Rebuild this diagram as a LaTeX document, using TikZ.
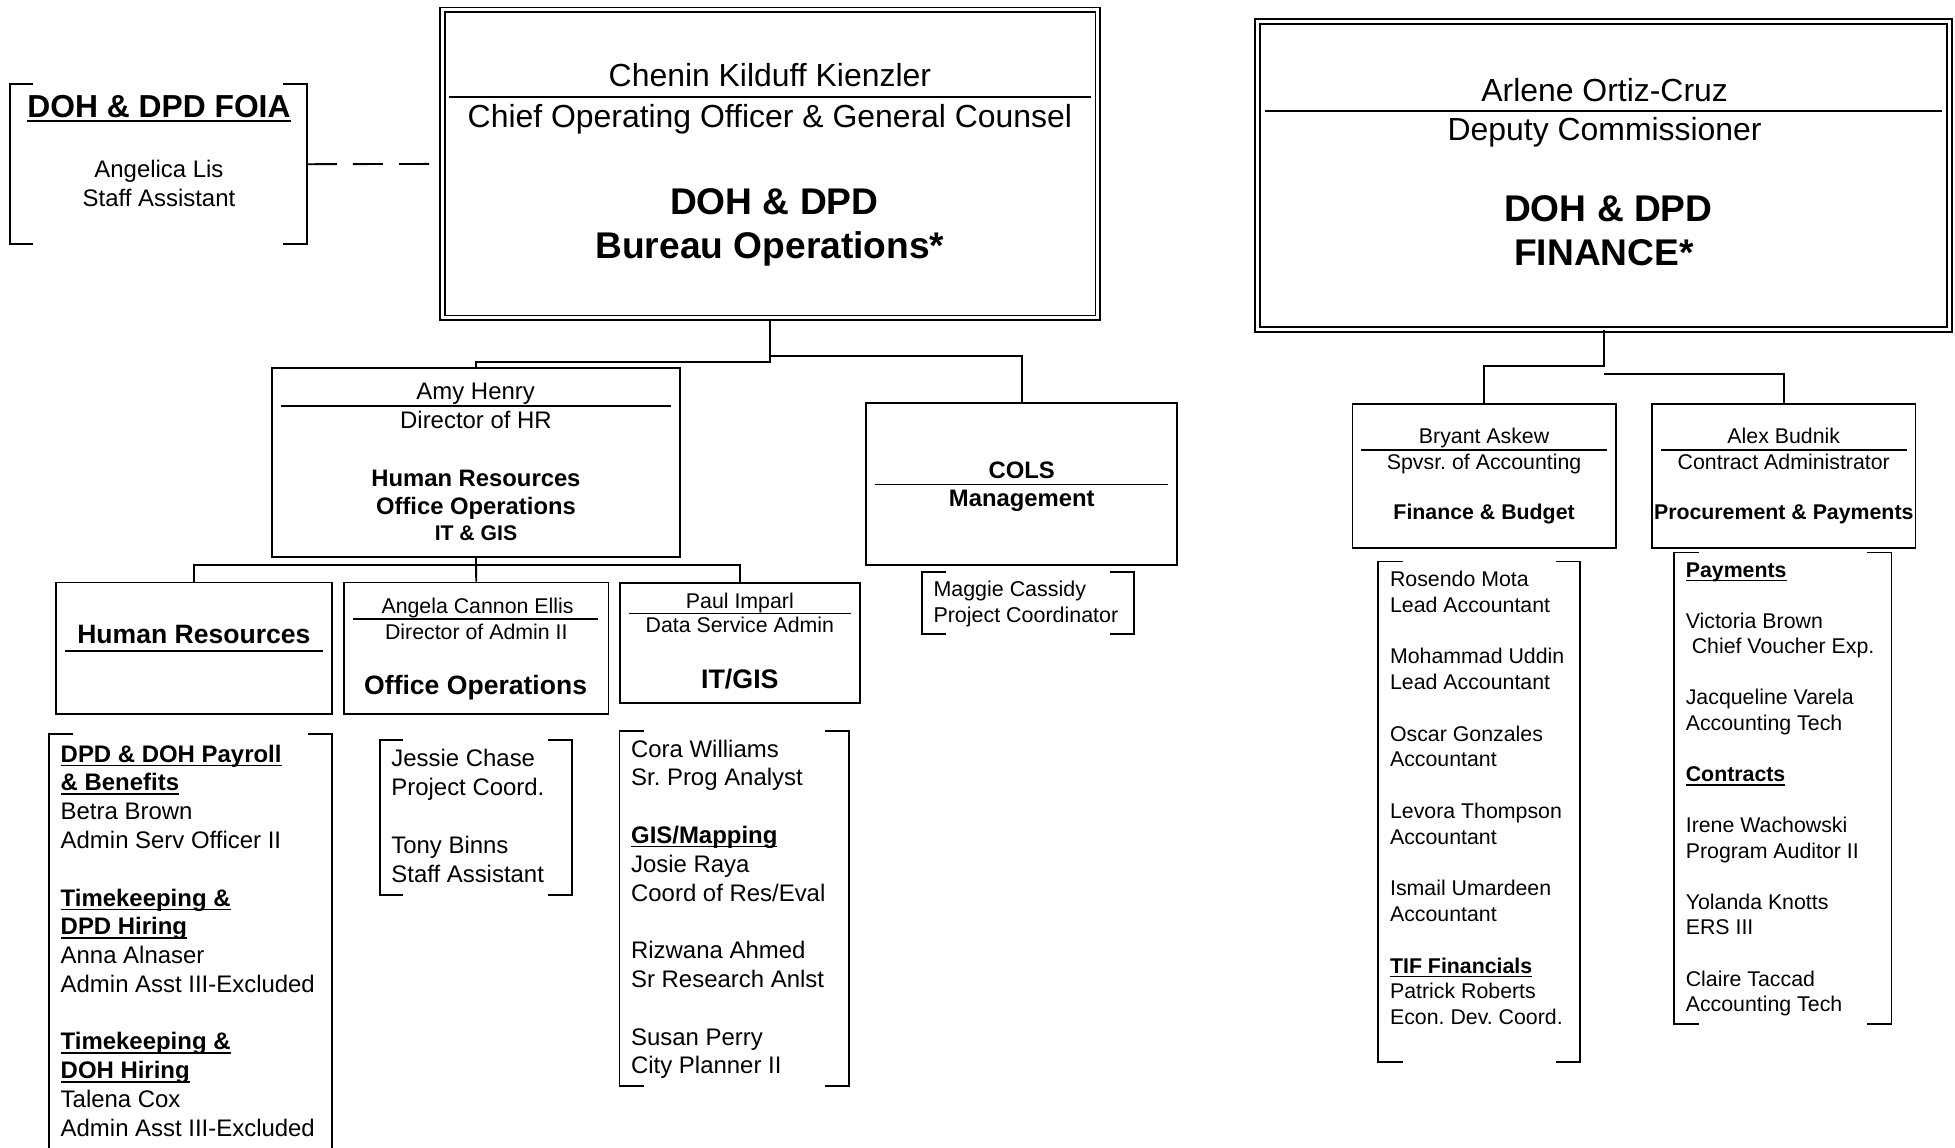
\documentclass[tikz,border=0pt]{standalone}
\usepackage{fontspec}
\setmainfont{Liberation Sans}
\frenchspacing

% bold heading with a rule under it
\newcommand{\ulhead}[1]{\setbox0\hbox{\bfseries #1}\rlap{\rule[-3.2pt]{\wd0}{1.2pt}}\box0}
% square brackets on both sides of a node
\newcommand{\bracketbox}[2]{%
  \draw[brk] ([xshift=#2pt]#1.north west) -| (#1.south west) -- ([xshift=#2pt]#1.south west);
  \draw[brk] ([xshift=-#2pt]#1.north east) -| (#1.south east) -- ([xshift=-#2pt]#1.south east);}

\begin{document}
\begin{tikzpicture}[x=1pt, y=-1pt,
    unitbox/.style={draw, line width=1.5pt, inner sep=0pt},
    headbox/.style={draw, double, line width=1.4pt, double distance=2.5pt, inner sep=0pt},
    listbox/.style={inner sep=0pt},
    brk/.style={line width=1.5pt},
    link/.style={line width=1.5pt},
    dashlink/.style={line width=1.5pt, dash pattern=on 24pt off 13pt},
    rule/.style={line width=1.2pt},
    txt/.style={inner sep=0pt, anchor=base},
    ltxt/.style={inner sep=0pt, anchor=base west},
    bigname/.style={font=\fontsize{25.6}{30}\selectfont},
    bigtitle/.style={font=\fontsize{29.8}{35}\selectfont\bfseries},
    midtext/.style={font=\fontsize{19.2}{23}\selectfont},
    midbold/.style={font=\fontsize{19.1}{23}\selectfont\bfseries},
    boxhead/.style={font=\fontsize{21.3}{25}\selectfont\bfseries},
    smalltext/.style={font=\fontsize{17.1}{20.5}\selectfont},
    smallbold/.style={font=\fontsize{17.1}{20.5}\selectfont\bfseries}]

    % Page
    \path[fill=white, use as bounding box] (0,0) rectangle (1568,920);

    % Head units
    \node[headbox, minimum width=525.5pt, minimum height=247.1pt] (ops) at (617.75,131.45) {};
    \node[headbox, minimum width=555pt, minimum height=246.9pt] (fin) at (1286.3,140.75) {};

    \node[txt, bigname] (opsn) at (617.5,69.7) {Chenin Kilduff Kienzler};
    \draw[rule] (360,77.7) -- (875,77.7);
    \node[txt, bigname] (opsp) at (617.5,102.4) {Chief Operating Officer \& General Counsel};
    \node[txt, bigtitle] (opst1) at (621,172.1) {DOH \& DPD};
    \node[txt, bigtitle] (opst2) at (617.5,207.5) {Bureau Operations*};

    \node[txt, bigname] (finn) at (1287,81.6) {Arlene Ortiz-Cruz};
    \draw[rule] (1014.5,89) -- (1557.9,89);
    \node[txt, bigname] (finp) at (1287,112.8) {Deputy Commissioner};
    \node[txt, bigtitle] (fint1) at (1290,178) {DOH \& DPD};
    \node[txt, bigtitle] (fint2) at (1286.5,213) {FINANCE*};

    % FOIA
    \node[listbox, minimum width=238pt, minimum height=128.2pt] (foia) at (126.9,131.7) {};
    \bracketbox{foia}{19}
    \node[txt, font=\fontsize{25.5}{30}\selectfont] (foiat) at (127.5,94.3) {\ulhead{DOH \& DPD FOIA}};
    \node[txt, midtext] (foian) at (127.5,142.4) {Angelica Lis};
    \node[txt, midtext] (foiap) at (127.5,165.6) {Staff Assistant};
    \draw[dashlink] (foia.east) -- (ops.west);

    % Second level
    \node[unitbox, minimum width=326.9pt, minimum height=151.3pt] (amy) at (381.75,370.95) {};
    \node[txt, midtext] (amyn) at (381.5,320.5) {Amy Henry};
    \draw[rule] (225,325.8) -- (538,325.8);
    \node[txt, midtext] (amyp) at (381.75,343.6) {Director of HR};
    \node[txt, midbold] (amyt1) at (381.75,390) {Human Resources};
    \node[txt, midbold] (amyt2) at (381.75,412.5) {Office Operations};
    \node[txt, font=\fontsize{17}{20}\selectfont\bfseries] (amyt3) at (381.75,433.8) {IT \& GIS};

    \node[unitbox, minimum width=249.3pt, minimum height=130pt] (cols) at (819.35,388.4) {};
    \node[txt, midbold] (colst1) at (819.5,383.4) {COLS};
    \draw[rule] (701.6,388.7) -- (937,388.7);
    \node[txt, midbold] (colst2) at (819.5,406.5) {Management};

    \node[unitbox, minimum width=211pt, minimum height=115.2pt] (bry) at (1190.3,381.6) {};
    \node[txt, smalltext] (bryn) at (1190.3,356.1) {Bryant Askew};
    \draw[rule] (1091.7,361.1) -- (1288.6,361.1);
    \node[txt, smalltext] (bryp) at (1190.3,376.9) {Spvsr. of Accounting};
    \node[txt, smallbold] (bryt) at (1190.3,416.9) {Finance \& Budget};

    \node[unitbox, minimum width=211.3pt, minimum height=115.2pt] (alex) at (1430.65,381.6) {};
    \node[txt, smalltext] (alexn) at (1430.65,356.1) {Alex Budnik};
    \draw[rule] (1332.2,361.1) -- (1529.1,361.1);
    \node[txt, smalltext] (alexp) at (1430.65,376.9) {Contract Administrator};
    \node[txt, smallbold] (alext) at (1430.65,416.9) {Procurement \& Payments};

    % Third level
    \node[unitbox, minimum width=221.3pt, minimum height=105.6pt] (hr) at (155.45,520) {};
    \node[txt, boxhead] (hrt) at (155.5,515.8) {Human Resources};
    \draw[rule] (52.2,522.1) -- (258.7,522.1);

    \node[unitbox, minimum width=212.1pt, minimum height=105.6pt] (office) at (381.95,520) {};
    \node[txt, smalltext] (officen) at (383,492) {Angela Cannon Ellis};
    \draw[rule] (283.3,496.6) -- (480,496.6);
    \node[txt, smalltext] (officep) at (382,512.8) {Director of Admin II};
    \node[txt, boxhead] (officet) at (381.5,557.3) {Office Operations};

    \node[unitbox, minimum width=192.5pt, minimum height=96.3pt] (it) at (593.35,515.55) {};
    \node[txt, smalltext] (itn) at (593.4,488) {Paul Imparl};
    \draw[rule] (504.5,492.2) -- (682.5,492.2);
    \node[txt, smalltext] (itp) at (593.4,507.4) {Data Service Admin};
    \node[txt, font=\fontsize{21.5}{25}\selectfont\bfseries] (itt) at (593.4,552.4) {IT/GIS};

    % Connectors
    \coordinate (opsj) at (617.75,290.2);
    \coordinate (opsr) at (617.75,285.5);
    \draw[link] (ops.south) -- (opsj) -| (amy.north);
    \draw[link] (opsr) -| (cols.north);
    \coordinate (amyj) at (381.75,453.5);
    \draw[link] (amy.south) -- (office.north);
    \draw[link] (hr.north) |- (amyj) -| (it.north);
    \coordinate (finj) at (1286.3,293.2);
    \coordinate (finr) at (1286.3,299.7);
    \draw[link] (fin.south) -- (finj) -| (bry.north);
    \draw[link] (finr) -| (alex.north);

    % Staff lists
    \node[listbox, minimum width=169.1pt, minimum height=49.3pt] (maggie) at (824.45,483.65) {};
    \bracketbox{maggie}{19.3}
    \node[ltxt, font=\fontsize{17.2}{20.5}\selectfont] (maggien) at (748.5,478.7) {Maggie Cassidy};
    \node[ltxt, font=\fontsize{17.2}{20.5}\selectfont] (maggiep) at (748.5,499.2) {Project Coordinator};

    \node[listbox, minimum width=226.8pt, minimum height=341.2pt] (hrlist) at (152.7,759.4) {};
    \bracketbox{hrlist}{19.6}
    \foreach \i/\t in {0/{\ulhead{DPD \& DOH Payroll}}, 1/{\ulhead{\& Benefits}}, 2/Betra Brown,
        3/Admin Serv Officer II, 5/{\ulhead{Timekeeping \&}}, 6/{\ulhead{DPD Hiring}},
        7/Anna Alnaser, 8/Admin Asst III-Excluded, 10/{\ulhead{Timekeeping \&}},
        11/{\ulhead{DOH Hiring}}, 12/Talena Cox, 13/Admin Asst III-Excluded}
        \node[ltxt, midtext] (hr\i) at (48.5,{611.3+\i*23.08}) {\t};

    \node[listbox, minimum width=153.8pt, minimum height=123.7pt] (offlist) at (381.7,655.45) {};
    \bracketbox{offlist}{19}
    \foreach \i/\t in {0/Jessie Chase, 1/Project Coord., 3/Tony Binns, 4/Staff Assistant}
        \node[ltxt, midtext] (off\i) at (313.7,{614.9+\i*23.2}) {\t};

    \node[listbox, minimum width=183.9pt, minimum height=284.9pt] (itlist) at (589.05,728.65) {};
    \bracketbox{itlist}{19.6}
    \foreach \i/\t in {0/Cora Williams, 1/Sr. Prog Analyst, 3/{\ulhead{GIS/Mapping}}, 4/Josie Raya,
        5/{Coord of Res/Eval}, 7/Rizwana Ahmed, 8/Sr Research Anlst, 10/Susan Perry, 11/City Planner II}
        \node[ltxt, midtext] (it\i) at (506,{607.2+\i*23.1}) {\t};

    \node[listbox, minimum width=161.7pt, minimum height=401pt] (brylist) at (1186.35,651) {};
    \bracketbox{brylist}{19.6}
    \foreach \i/\t in {0/Rosendo Mota, 1/Lead Accountant, 3/Mohammad Uddin, 4/Lead Accountant,
        6/Oscar Gonzales, 7/Accountant, 9/Levora Thompson, 10/Accountant, 12/Ismail Umardeen,
        13/Accountant, 15/{\ulhead{TIF Financials}}, 16/Patrick Roberts, 17/Econ. Dev. Coord.}
        \node[ltxt, smalltext] (bry\i) at (1114.7,{470.4+\i*20.67}) {\t};

    \node[listbox, minimum width=174.1pt, minimum height=377.8pt] (alexlist) at (1429.75,632.2) {};
    \bracketbox{alexlist}{20}
    \foreach \i/\t in {0/{\ulhead{Payments}}, 2/Victoria Brown, 3/{\hspace{0.28em}Chief Voucher Exp.},
        5/Jacqueline Varela, 6/Accounting Tech, 8/{\ulhead{Contracts}}, 10/Irene Wachowski,
        11/Program Auditor II, 13/Yolanda Knotts, 14/ERS III, 16/Claire Taccad, 17/Accounting Tech}
        \node[ltxt, smalltext] (alex\i) at (1351.9,{462.9+\i*20.5}) {\t};

\end{tikzpicture}
\end{document}
